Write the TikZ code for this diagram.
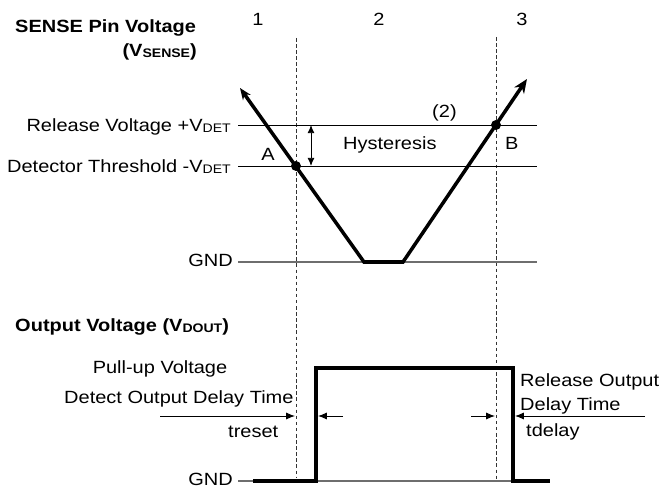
\documentclass[tikz,border=0pt]{standalone}
\usepackage{fontspec}
\setmainfont{Liberation Sans}[FakeStretch=1.13]
\usepackage{tikz}
\usepackage{xcolor}
\usetikzlibrary{arrows.meta, calc}
\definecolor{gndGray}{HTML}{6E6E6E}
\definecolor{dashGray}{HTML}{333333}
\newcommand{\lowsub}[1]{\raisebox{-0.4pt}{\fontsize{10.6pt}{12pt}\selectfont #1}}

\begin{document}
\begin{tikzpicture}[
  x=0.03cm, y=-0.03cm,
  font=\fontsize{15.1pt}{18pt}\selectfont,
  lbl/.style={inner sep=0pt, anchor=base},
  title/.style={lbl, anchor=base west, font=\fontsize{15.1pt}{18pt}\selectfont\bfseries},
  level/.style={line width=0.8pt, black},
  gndline/.style={line width=0.9pt, gndGray},
  marker/.style={dash pattern=on 3pt off 2.2pt, line width=0.7pt, dashGray},
  wave/.style={line width=3pt, line join=miter},
  dimarrow/.style={line width=0.8pt, -{Latex[length=7.5pt, width=6pt]}},
  dot/.style={circle, fill=black, inner sep=0pt, minimum size=8.5pt},
]
  \useasboundingbox (0,0) rectangle (662,488);

  \node[title] (sensettl) at (15,33) {SENSE Pin Voltage};
  \node[lbl, anchor=base east, font=\fontsize{15.1pt}{18pt}\selectfont\bfseries] (sensesym) at (197,57) {(V\lowsub{SENSE})};
  \node[lbl] (ph1) at (258,26) {1};
  \node[lbl] (ph2) at (379,26) {2};
  \node[lbl] (ph3) at (522,26) {3};

  \coordinate (t1top) at (296,38);
  \coordinate (t1bot) at (296,478);
  \coordinate (t3top) at (496,37);
  \coordinate (t3bot) at (496,480);
  \draw[marker] (t1top) -- (t1bot);
  \draw[marker] (t3top) -- (t3bot);

  \coordinate (relL) at (238,125);
  \coordinate (relR) at (537,125);
  \coordinate (detL) at (238,166);
  \coordinate (detR) at (537,166);
  \coordinate (gndL) at (238,262);
  \coordinate (gndR) at (537,262);
  \node[lbl, anchor=base east] (relv) at (231,132) {Release Voltage +V\lowsub{DET}};
  \node[lbl, anchor=base east] (detv) at (231,173) {Detector Threshold -V\lowsub{DET}};
  \node[lbl, anchor=base east] (gnd1) at (233,267) {GND};
  \draw[level] (relL) -- (relR);
  \draw[level] (detL) -- (detR);
  \draw[gndline] (gndL) -- (gndR);

  \coordinate (hysT) at (311,125);
  \coordinate (hysB) at (311,166);
  \draw[line width=0.8pt, {Latex[length=7pt, width=6pt]}-{Latex[length=7pt, width=6pt]}] (hysT) -- (hysB);
  \node[lbl, anchor=base west] (hys) at (343,150) {Hysteresis};
  \node[lbl, anchor=base west] (note2) at (432,118) {(2)};

  \coordinate (vstart) at (240,88);
  \coordinate (vbl) at (364,262);
  \coordinate (vbr) at (403,262);
  \coordinate (vend) at (527,79);
  \draw[wave, {Stealth[length=10pt, width=8pt]}-{Stealth[length=12pt, width=10pt]}] (vstart) -- (vbl) -- (vbr) -- (vend);
  \node[dot] (A) at (296,166) {};
  \node[dot] (B) at (496,125) {};
  \node[lbl] (labA) at (268,161) {A};
  \node[lbl, anchor=base west] (labB) at (505,150) {B};

  \node[title] (outttl) at (15,332) {Output Voltage (V\lowsub{DOUT})};
  \node[lbl] (pullup) at (160,374) {Pull-up Voltage};
  \node[lbl, anchor=base west] (detdly) at (64,404) {Detect Output Delay Time};
  \node[lbl, anchor=base west] (treset) at (228,438) {treset};
  \node[lbl, anchor=base west] (reldly1) at (520,387) {Release Output};
  \node[lbl, anchor=base west] (reldly2) at (520,411) {Delay Time};
  \node[lbl, anchor=base west] (tdelay) at (526,437) {tdelay};
  \node[lbl, anchor=base east] (gnd2) at (233,485.5) {GND};

  \coordinate (gnd2L) at (238,481);
  \coordinate (gnd2R) at (548,481);
  \draw[gndline] (gnd2L) -- (gnd2R);

  \coordinate (o0) at (253,481);
  \coordinate (o1) at (316,481);
  \coordinate (o2) at (316,368);
  \coordinate (o3) at (513,368);
  \coordinate (o4) at (513,481);
  \coordinate (o5) at (550,481);
  \draw[wave] (o0) -- (o1) -- (o2) -- (o3) -- (o4) -- (o5);

  \coordinate (dA0) at (160,416);
  \coordinate (dA1) at (295,416);
  \coordinate (dB0) at (343,416);
  \coordinate (dB1) at (318,416);
  \coordinate (dC0) at (471,416);
  \coordinate (dC1) at (495,416);
  \coordinate (dD0) at (645,416);
  \coordinate (dD1) at (515,416);
  \draw[dimarrow] (dA0) -- (dA1);
  \draw[dimarrow] (dB0) -- (dB1);
  \draw[dimarrow] (dC0) -- (dC1);
  \draw[dimarrow] (dD0) -- (dD1);
\end{tikzpicture}
\end{document}
